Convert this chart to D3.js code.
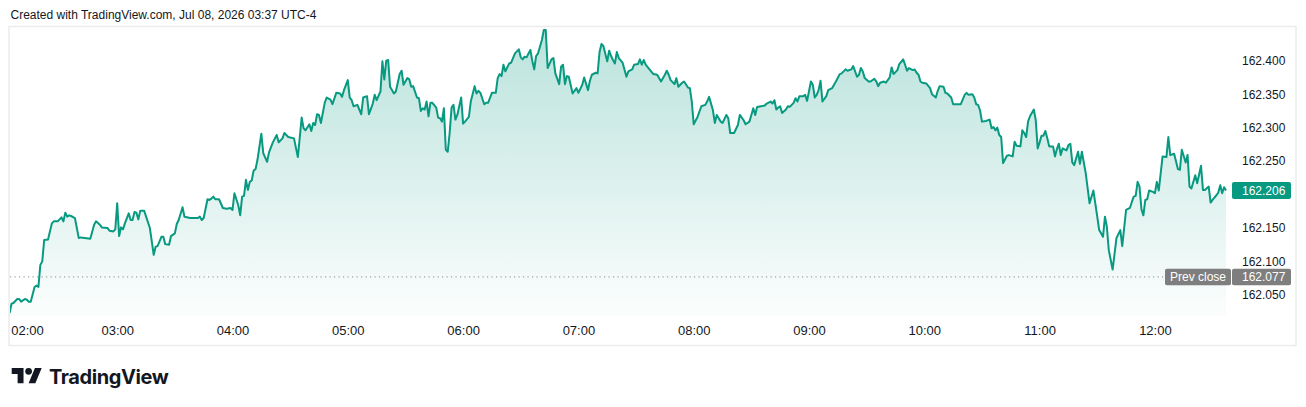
<!DOCTYPE html>
<html><head><meta charset="utf-8">
<script src="https://cdn.jsdelivr.net/npm/d3@7"></script>
<style>html,body{margin:0;padding:0;background:#fff;overflow:hidden}svg{display:block;font-family:"Liberation Sans",Arial,sans-serif}</style>
</head><body><svg id="chart" width="1306" height="407"></svg>
<script>
// minutes after 02:00 (Jul 08, 2026, UTC-4)
const minutes = [4,5,6,8,9,10,12,13,14,15,17,18,19,20,21,22,24,26,27,29,31,32,33,34,35,36,38,40,41,46,48,49,51,52,55,56,58,59,60,61,62,63,64,66,67,68,69,70,71,72,
74,77,79,80,81,83,84,85,87,88,90,91,92,94,95,98,102,103,104,105,107,108,109,110,111,113,115,117,119,120,121,123,124,125,126,127,128,129,130,131,132,133,135,136,138,139,141,143,
144,146,147,149,152,154,156,157,158,160,161,162,163,164,165,166,168,169,171,172,174,176,177,178,180,181,182,183,185,187,188,190,191,193,194,195,197,198,199,200,201,202,204,205,207,208,209,211,212,213,
214,216,217,218,219,220,221,222,223,224,226,227,228,229,230,231,232,233,234,235,236,237,239,240,241,243,244,246,247,248,249,251,252,253,255,257,258,259,260,261,262,264,265,267,269,270,271,272,273,275,276,277,278,279,281,282,283,284,
286,287,288,290,291,292,293,294,295,297,299,300,302,303,305,306,307,309,310,311,312,313,315,316,317,318,319,320,321,323,325,326,328,329,331,332,333,334,335,337,339,341,343,345,346,347,348,350,351,352,354,355,
357,358,359,360,362,364,366,367,368,370,371,372,374,375,377,378,379,381,383,384,386,387,389,390,391,392,393,395,397,398,400,401,402,403,404,405,406,408,409,410,412,413,414,415,417,418,419,421,422,423,424,425,426,
427,429,430,432,434,436,437,439,440,442,443,445,446,447,448,449,451,452,454,455,456,457,459,460,462,463,464,466,467,469,470,471,472,474,475,476,477,478,479,481,483,484,486,487,488,490,491,492,494,495,497,
499,501,502,503,505,506,507,508,509,510,512,514,515,516,517,518,519,520,521,523,524,526,527,528,530,531,532,533,534,535,537,538,539,540,541,542,543,544,545,547,548,549,550,551,552,554,555,556,557,558,560,561,562,564,566,568,
570,571,573,574,575,576,578,580,582,583,585,587,588,589,590,591,592,593,594,595,596,597,599,600,601,602,604,606,607,608,610,612,613,614,616,617,618,619,621,622,624,625,626,628,629,630,632,633,634,635,636,637];
const prices = [162.023,162.037,162.038,162.044,162.044,162.040,162.044,162.043,162.040,162.040,162.062,162.064,162.062,162.095,162.100,162.132,162.133,162.157,162.160,162.160,162.166,162.160,162.173,162.167,162.169,162.168,162.165,162.135,162.136,162.134,162.155,162.160,162.155,162.151,162.150,162.146,162.145,162.148,162.187,162.138,162.151,162.148,162.157,162.172,162.162,162.162,162.174,162.173,162.163,162.176,
162.176,162.150,162.110,162.122,162.123,162.137,162.137,162.126,162.125,162.138,162.142,162.156,162.162,162.181,162.167,162.165,162.165,162.167,162.162,162.165,162.193,162.192,162.194,162.197,162.193,162.193,162.180,162.179,162.180,162.177,162.202,162.184,162.169,162.197,162.198,162.222,162.207,162.219,162.221,162.236,162.238,162.252,162.291,162.262,162.249,162.263,162.278,162.289,
162.278,162.284,162.292,162.286,162.284,162.256,162.315,162.299,162.296,162.305,162.295,162.307,162.304,162.320,162.319,162.307,162.337,162.345,162.342,162.335,162.352,162.351,162.346,162.356,162.371,162.345,162.341,162.332,162.334,162.320,162.345,162.347,162.320,162.336,162.349,162.341,162.354,162.399,162.372,162.400,162.401,162.361,162.351,162.354,162.380,162.385,162.364,162.374,162.372,162.361,
162.362,162.345,162.344,162.325,162.329,162.327,162.339,162.317,162.337,162.337,162.330,162.315,162.314,162.309,162.329,162.267,162.264,162.292,162.330,162.334,162.312,162.319,162.345,162.306,162.309,162.316,162.339,162.362,162.351,162.355,162.352,162.335,162.337,162.337,162.352,162.352,162.374,162.380,162.377,162.394,162.384,162.396,162.397,162.411,162.417,162.405,162.402,162.406,162.405,162.416,162.400,162.387,162.407,162.411,162.431,162.446,162.446,162.389,
162.402,162.404,162.381,162.365,162.391,162.394,162.365,162.377,162.376,162.351,162.359,162.352,162.364,162.375,162.356,162.370,162.379,162.382,162.381,162.413,162.425,162.422,162.399,162.415,162.407,162.401,162.396,162.413,162.404,162.397,162.376,162.384,162.387,162.394,162.395,162.402,162.394,162.401,162.394,162.387,162.380,162.379,162.369,162.379,162.385,162.379,162.371,162.365,162.374,162.361,162.367,162.369,
162.360,162.359,162.339,162.305,162.316,162.332,162.334,162.339,162.346,162.326,162.307,162.319,162.309,162.307,162.319,162.314,162.292,162.292,162.304,162.319,162.311,162.305,162.309,162.319,162.329,162.319,162.331,162.332,162.333,162.336,162.339,162.336,162.341,162.327,162.330,162.332,162.322,162.327,162.332,162.331,162.337,162.344,162.339,162.347,162.347,162.349,162.340,162.369,162.364,162.345,162.349,162.356,162.370,
162.339,162.347,162.356,162.359,162.369,162.380,162.381,162.387,162.385,162.387,162.392,162.376,162.379,162.389,162.384,162.374,162.369,162.369,162.373,162.369,162.362,162.367,162.369,162.367,162.375,162.390,162.380,162.386,162.395,162.402,162.394,162.385,162.389,162.386,162.387,162.382,162.379,162.369,162.367,162.366,162.359,162.350,162.345,162.355,162.362,162.361,162.352,162.351,162.345,162.335,162.335,
162.335,162.349,162.352,162.349,162.350,162.345,162.335,162.334,162.326,162.309,162.310,162.312,162.299,162.301,162.296,162.300,162.289,162.286,162.247,162.258,162.259,162.257,162.279,162.273,162.272,162.296,162.292,162.286,162.309,162.317,162.327,162.311,162.269,162.278,162.288,162.288,162.295,162.284,162.272,162.272,162.257,162.268,162.276,162.259,162.269,162.266,162.274,162.276,162.248,162.244,162.264,162.246,162.264,162.232,162.187,162.206,
162.167,162.147,162.137,162.167,162.152,162.117,162.088,162.135,162.147,162.123,162.177,162.180,162.189,162.197,162.198,162.219,162.212,162.178,162.169,162.192,162.193,162.206,162.204,162.202,162.219,162.206,162.257,162.256,162.286,162.259,162.261,162.238,162.237,162.267,162.248,162.259,162.212,162.209,162.229,162.217,162.243,162.207,162.207,162.212,162.188,162.192,162.199,162.203,162.214,162.202,162.211,162.206];
const priceTicks = [162.05, 162.10, 162.15, 162.20, 162.25, 162.30, 162.35, 162.40];
const prevClose = 162.077;
const lastPrice = 162.206;
const headerText = "Created with TradingView.com, Jul 08, 2026 03:37 UTC-4";
const prevCloseText = "Prev close";
const brandText = "TradingView";

const base = new Date(2026, 6, 8, 2, 0);
const data = minutes.map((m, i) => ({t: d3.timeMinute.offset(base, m), p: prices[i]}));

const svg = d3.select("#chart");
const plot = {left: 10, right: 1228, top: 27, bottom: 316};
const teal = "#089981";

const x = d3.scaleTime().domain([base, d3.timeMinute.offset(base, 600)]).range([1.9, 1154.9]);
const y = d3.scaleLinear().domain([162.05, 162.40]).range([295, 60.7]);

// header
svg.append("text").attr("x", 10.5).attr("y", 18.5).attr("font-size", 12).attr("fill", "#131722").text(headerText);

// frame
svg.append("rect").attr("x", 9).attr("y", 26.5).attr("width", 1287).attr("height", 319)
  .attr("fill", "#fff").attr("stroke", "#ececec").attr("stroke-width", 1.5);

const defs = svg.append("defs");
defs.append("clipPath").attr("id", "clip").append("rect")
  .attr("x", plot.left).attr("y", plot.top).attr("width", plot.right - plot.left).attr("height", plot.bottom - plot.top);
const grad = defs.append("linearGradient").attr("id", "fill").attr("gradientUnits", "userSpaceOnUse")
  .attr("x1", 0).attr("x2", 0).attr("y1", plot.top).attr("y2", plot.bottom);
grad.append("stop").attr("offset", 0).attr("stop-color", teal).attr("stop-opacity", 0.28);
grad.append("stop").attr("offset", 1).attr("stop-color", teal).attr("stop-opacity", 0.015);

const g = svg.append("g").attr("clip-path", "url(#clip)");
g.append("path").datum(data).attr("fill", "url(#fill)")
  .attr("d", d3.area().x(d => x(d.t)).y0(plot.bottom).y1(d => y(d.p)));

// prev close dotted line
svg.append("line").attr("x1", plot.left).attr("x2", 1165).attr("y1", y(prevClose)).attr("y2", y(prevClose))
  .attr("stroke", "#8a8a8a").attr("stroke-width", 1).attr("stroke-dasharray", "1.2 3.3");

g.append("path").datum(data).attr("fill", "none").attr("stroke", teal).attr("stroke-width", 2)
  .attr("stroke-linejoin", "round")
  .attr("d", d3.line().x(d => x(d.t)).y(d => y(d.p)));

// price axis (labels hidden where the last-price label sits)
const ly = y(lastPrice);
const shownTicks = priceTicks.filter(v => Math.abs(y(v) - ly) > 12);
const yAxis = svg.append("g").attr("transform", "translate(1242,0)")
  .call(d3.axisRight(y).tickValues(shownTicks).tickFormat(d3.format(".3f")).tickSize(0).tickPadding(0));
yAxis.select(".domain").remove();
yAxis.selectAll("text").attr("font-size", 12).attr("fill", "#131722").attr("font-family", "Liberation Sans, Arial, sans-serif");

// time axis
const xAxis = svg.append("g").attr("transform", "translate(0,326)")
  .call(d3.axisBottom(x).ticks(d3.timeHour.every(1)).tickFormat(d3.timeFormat("%H:%M")).tickSize(0).tickPadding(0));
xAxis.select(".domain").remove();
xAxis.selectAll("text").attr("font-size", 13).attr("fill", "#131722").attr("font-family", "Liberation Sans, Arial, sans-serif")
  .attr("dy", "0.71em")
  .each(function(d) {
    const w = this.getComputedTextLength();
    const cx = x(d);
    if (cx - w / 2 < plot.left + 0.7) d3.select(this).attr("x", plot.left + 0.7 + w / 2 - cx);
  });

// last price label
svg.append("rect").attr("x", 1232).attr("y", ly - 8.5).attr("width", 59).attr("height", 17).attr("rx", 2).attr("fill", teal);
svg.append("text").attr("x", 1242).attr("y", ly).attr("dy", "0.35em").attr("font-size", 12).attr("fill", "#fff").text(d3.format(".3f")(lastPrice));

// prev close labels
const py = y(prevClose);
svg.append("rect").attr("x", 1165).attr("y", py - 8.3).attr("width", 66).attr("height", 16.5).attr("rx", 2).attr("fill", "#7e7e7e");
svg.append("text").attr("x", 1198).attr("y", py).attr("dy", "0.35em").attr("text-anchor", "middle").attr("font-size", 12).attr("fill", "#fff").text(prevCloseText);
svg.append("rect").attr("x", 1232).attr("y", py - 8.3).attr("width", 59).attr("height", 16.5).attr("rx", 2).attr("fill", "#7e7e7e");
svg.append("text").attr("x", 1242).attr("y", py).attr("dy", "0.35em").attr("font-size", 12).attr("fill", "#fff").text(d3.format(".3f")(prevClose));

// TradingView logo
const logo = svg.append("g").attr("transform", "translate(11.7,364.6) scale(0.845)").attr("fill", "#131722");
logo.append("path").attr("d", "M14 22H7V11H0V4h14v18z M28 22h-8l7.5-18h8L28 22z");
logo.append("circle").attr("cx", 20).attr("cy", 8).attr("r", 4);
svg.append("text").attr("x", 49).attr("y", 383.5).attr("font-family", "Inter, sans-serif").attr("font-weight", 700)
  .attr("font-size", 20).attr("fill", "#131722").attr("letter-spacing", -0.4).text(brandText);
</script>
</body></html>
